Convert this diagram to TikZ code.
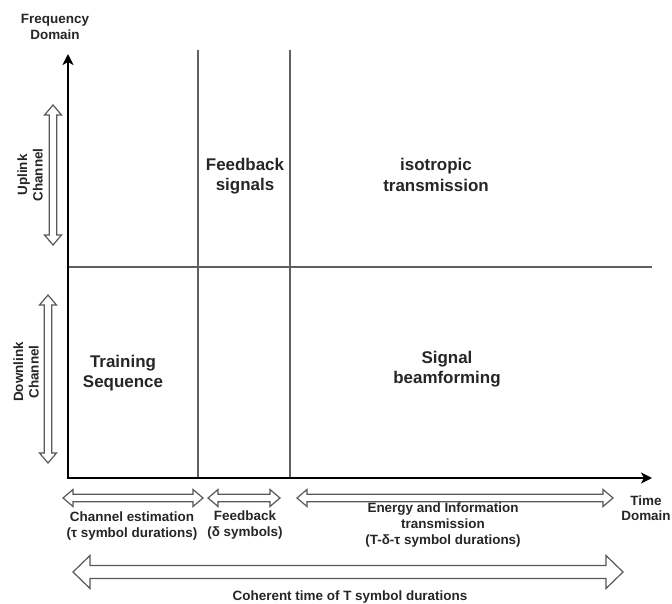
\documentclass[tikz,border=0pt]{standalone}
\usepackage{fontspec}
\setmainfont{Liberation Sans}
\usetikzlibrary{arrows.meta}
\tikzset{
  axis/.style={line width=2.4bp, black},
  grid/.style={line width=1.3bp, gray!75!black},
  hollow/.style={draw=black!65, line width=1.2bp, fill=white, line join=miter},
  small/.style={font=\bfseries\fontsize{13.5}{15.5}\selectfont, text=black!85, align=center, inner sep=0pt},
  big/.style={font=\bfseries\fontsize{17}{20.5}\selectfont, text=black!85, align=center, inner sep=0pt},
}
\newcommand\hdarr[6]{% x1 x2 y shafthalf headhalf headlen
  \draw[hollow] (#1,#3) -- (#1+#6,#3-#5) -- (#1+#6,#3-#4) -- (#2-#6,#3-#4) -- (#2-#6,#3-#5) -- (#2,#3)
   -- (#2-#6,#3+#5) -- (#2-#6,#3+#4) -- (#1+#6,#3+#4) -- (#1+#6,#3+#5) -- cycle;}
\newcommand\vdarr[6]{% y1 y2 x shafthalf headhalf headlen
  \draw[hollow] (#3,#1) -- (#3-#5,#1+#6) -- (#3-#4,#1+#6) -- (#3-#4,#2-#6) -- (#3-#5,#2-#6) -- (#3,#2)
   -- (#3+#5,#2-#6) -- (#3+#4,#2-#6) -- (#3+#4,#1+#6) -- (#3+#5,#1+#6) -- cycle;}
\begin{document}
\begin{tikzpicture}[x=1bp,y=-1bp]
\useasboundingbox[fill=white] (0,0) rectangle (672,604);
% coordinates
\coordinate (O) at (68,478);
\coordinate (ytip) at (68,54);
\coordinate (xtip) at (652,478);
\coordinate (v1t) at (198,50);
\coordinate (v1b) at (198,478);
\coordinate (v2t) at (290,50);
\coordinate (v2b) at (290,478);
\coordinate (hl) at (68,267);
\coordinate (hr) at (652,267);
% grid lines
\draw[grid] (v1t) -- (v1b);
\draw[grid] (v2t) -- (v2b);
\draw[grid] (hl) -- (hr);
% axes
\draw[axis, -{Stealth[length=11bp,width=11bp,inset=3bp]}] (O) -- (ytip);
\draw[axis, -{Stealth[length=11bp,width=11bp,inset=3bp]}] ([xshift=-1.2bp]O) -- (xtip);
% hollow arrows
\vdarr{105}{245}{53}{3.8}{8.5}{10}
\vdarr{295}{463}{48}{3.8}{8.5}{10}
\hdarr{63}{203}{498}{3.8}{8.5}{10}
\hdarr{208}{280}{498}{3.8}{8.5}{10}
\hdarr{297}{613}{498}{3.8}{8.5}{10}
\hdarr{73}{623}{572}{6.5}{16.5}{17}
% labels
\node[small] (freq) at (55,27) {Frequency\\Domain};
\node[small, rotate=90] (up) at (30,175) {Uplink\\Channel};
\node[small, rotate=90] (down) at (26,372) {Downlink\\Channel};
\node[big] (fbs) at (245,176) {Feedback\\signals};
\node[big] (iso) at (436,175) {isotropic\\transmission};
\node[big] (train) at (123,373) {Training\\Sequence};
\node[big] (beam) at (447,369) {Signal\\beamforming};
\node[small] (chest) at (132,526) {Channel estimation\\(τ symbol durations)};
\node[small] (fb) at (245,525) {Feedback\\(δ symbols)};
\node[small, font=\bfseries\fontsize{13.5}{16.5}\selectfont] (energy) at (443,525) {Energy and Information\\transmission\\(T-δ-τ symbol durations)};
\node[small] (time) at (646,508) {Time\\Domain};
\node[small] (coh) at (350,597) {Coherent time of T symbol durations};
\end{tikzpicture}
\end{document}
